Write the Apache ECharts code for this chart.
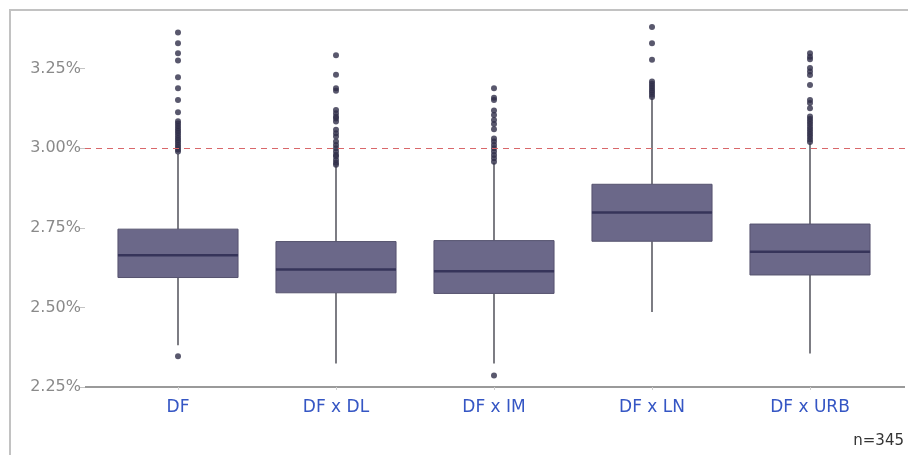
<!DOCTYPE html>
<html>
<head>
<meta charset="utf-8">
<script src="https://cdn.jsdelivr.net/npm/echarts@6/dist/echarts.min.js"></script>
<style>
  html, body { margin: 0; padding: 0; background: #fff; }
  #chart { width: 908px; height: 455px; }
</style>
</head>
<body>
<div id="chart"></div>
<script>
// Scenario groups
const categories = ['DF', 'DF x DL', 'DF x IM', 'DF x LN', 'DF x URB'];

// Box statistics (percent)
const whiskerLow  = [2.381, 2.324, 2.324, 2.486, 2.355];
const q1          = [2.594, 2.546, 2.544, 2.708, 2.602];
const median      = [2.664, 2.619, 2.614, 2.798, 2.675];
const q3          = [2.746, 2.707, 2.710, 2.887, 2.762];
const whiskerHigh = [2.982, 2.945, 2.955, 3.157, 3.016];

// Outliers per group
const outliersDF  = [3.364, 3.330, 3.299, 3.276, 3.223, 3.189, 3.152, 3.113, 3.085, 3.078, 3.070, 3.062,
                     3.055, 3.048, 3.040, 3.032, 3.025, 3.018, 3.010, 3.003, 2.996, 2.990, 2.347];
const outliersDL  = [3.292, 3.231, 3.189, 3.181, 3.120, 3.110, 3.100, 3.094, 3.084, 3.058, 3.047, 3.037,
                     3.021, 3.010, 3.000, 2.990, 2.980, 2.974, 2.963, 2.955, 2.948];
const outliersIM  = [3.189, 3.159, 3.152, 3.119, 3.105, 3.089, 3.076, 3.060, 3.031, 3.021, 3.010, 3.000,
                     2.990, 2.979, 2.969, 2.958, 2.286];
const outliersLN  = [3.381, 3.330, 3.278, 3.210, 3.203, 3.196, 3.189, 3.182, 3.175, 3.168, 3.161];
const outliersURB = [3.299, 3.288, 3.280, 3.252, 3.241, 3.230, 3.199, 3.152, 3.142, 3.126, 3.100, 3.092,
                     3.084, 3.076, 3.068, 3.060, 3.052, 3.044, 3.036, 3.028, 3.020];

// Reference level and sample size
const threshold = 3.00;
const sampleNote = 'n=345';

const outlierGroups = [outliersDF, outliersDL, outliersIM, outliersLN, outliersURB];

const boxData = categories.map((c, i) => [i, whiskerLow[i], q1[i], median[i], q3[i], whiskerHigh[i]]);
const outlierData = [];
outlierGroups.forEach((list, i) => list.forEach(v => outlierData.push([i, v])));

const BOX_FILL = '#6b6889';
const BOX_EDGE = '#56536f';
const MEDIAN = '#36345a';
const WHISKER = '#45454f';

function renderBox(params, api) {
  const idx = api.value(0);
  const pLow = api.coord([idx, api.value(1)]);
  const pQ1 = api.coord([idx, api.value(2)]);
  const pMed = api.coord([idx, api.value(3)]);
  const pQ3 = api.coord([idx, api.value(4)]);
  const pHigh = api.coord([idx, api.value(5)]);
  const bandW = api.size([1, 0])[0];
  const w = bandW * 0.76;
  const cx = pMed[0];
  return {
    type: 'group',
    children: [
      { type: 'line', shape: { x1: cx, y1: pHigh[1], x2: cx, y2: pQ3[1] },
        style: { stroke: WHISKER, lineWidth: 1.4 } },
      { type: 'line', shape: { x1: cx, y1: pQ1[1], x2: cx, y2: pLow[1] },
        style: { stroke: WHISKER, lineWidth: 1.4 } },
      { type: 'rect', shape: { x: cx - w / 2, y: pQ3[1], width: w, height: pQ1[1] - pQ3[1] },
        style: { fill: BOX_FILL, stroke: BOX_EDGE, lineWidth: 1 } },
      { type: 'line', shape: { x1: cx - w / 2, y1: pMed[1], x2: cx + w / 2, y2: pMed[1] },
        style: { stroke: MEDIAN, lineWidth: 2.5 } }
    ]
  };
}

const chart = echarts.init(document.getElementById('chart'), null, { renderer: 'canvas' });
chart.setOption({
  animation: false,
  backgroundColor: '#ffffff',
  textStyle: { fontFamily: 'DejaVu Sans' },
  grid: { left: 99, right: 19, top: 21, bottom: 68 },
  xAxis: {
    type: 'category',
    data: categories,
    boundaryGap: true,
    axisLine: { show: false },
    axisTick: { show: true, alignWithLabel: true, length: 3, lineStyle: { color: '#cfcfcf' } },
    axisLabel: { color: '#3556c4', fontSize: 17, margin: 12, fontFamily: 'DejaVu Sans' },
    splitLine: { show: false }
  },
  yAxis: {
    type: 'value',
    min: 2.25,
    max: 3.40,
    interval: 0.25,
    offset: 14,
    axisLine: { show: false },
    axisTick: { show: true, length: 5, lineStyle: { color: '#c4c4c4' } },
    axisLabel: {
      color: '#8a8a8a', fontSize: 16, margin: 4, fontFamily: 'DejaVu Sans',
      showMaxLabel: false,
      formatter: v => v.toFixed(2) + '%'
    },
    splitLine: { show: false }
  },
  series: [
    {
      type: 'custom',
      name: 'box',
      renderItem: renderBox,
      encode: { x: 0, y: [1, 2, 3, 4, 5] },
      data: boxData,
      z: 2
    },
    {
      type: 'scatter',
      name: 'outliers',
      data: outlierData,
      symbol: 'circle',
      symbolSize: 6,
      itemStyle: { color: '#302e48' },
      z: 3,
      markLine: {
        silent: true,
        symbol: 'none',
        label: { show: false },
        lineStyle: { color: '#d9676a', width: 1, type: [6, 5] },
        data: [[{ x: 85, yAxis: threshold }, { x: 905, yAxis: threshold }]]
      }
    }
  ],
  graphic: [
    { type: 'rect', shape: { x: 10, y: 10, width: 940, height: 480 },
      style: { fill: 'none', stroke: '#c2c2c2', lineWidth: 2 }, silent: true },
    { type: 'line', shape: { x1: 85, y1: 387, x2: 905, y2: 387 },
      style: { stroke: '#9a9a9a', lineWidth: 2 }, silent: true },
    { type: 'text', right: 4, top: 434,
      style: { text: sampleNote, fill: '#333333', font: '15px DejaVu Sans' }, silent: true }
  ]
});
</script>
</body>
</html>
